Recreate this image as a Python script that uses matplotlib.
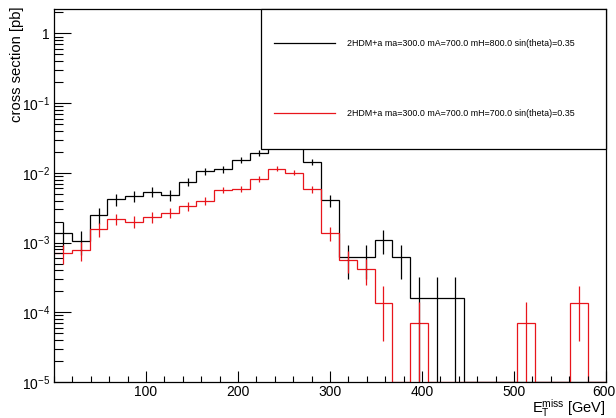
import numpy as np
import matplotlib
matplotlib.use("Agg")
import matplotlib.pyplot as plt
from matplotlib.patches import Rectangle
from matplotlib.transforms import ScaledTranslation
from matplotlib.ticker import FixedLocator, FixedFormatter, MultipleLocator, LogLocator, NullFormatter

plt.rcParams['font.family'] = 'Liberation Sans'
plt.rcParams['mathtext.fontset'] = 'custom'
plt.rcParams['mathtext.rm'] = 'Liberation Sans'
plt.rcParams['mathtext.it'] = 'Liberation Sans:italic'
plt.rcParams['mathtext.bf'] = 'Liberation Sans:bold'

# histogram binning: 31 bins over 0-600 GeV
n_bins = 31
x_lo, x_hi = 0, 600
y_lo, y_hi = 1e-5, 2.24

# mH=800 (black)
xs_800 = [1.37e-3, 1.07e-3, 2.49e-3, 4.18e-3, 4.67e-3, 5.37e-3, 4.82e-3, 7.48e-3,
          1.05e-2, 1.13e-2, 1.52e-2, 1.93e-2, 2.4e-2, 2.4e-2, 1.45e-2, 4.08e-3,
          6.15e-4, 6.15e-4, 1.09e-3, 6.15e-4, 1.59e-4, 1.59e-4, 1.59e-4, 0,
          0, 0, 0, 0, 0, 0, 0]
err_800 = [6.0e-4, 4.1e-4, 6.2e-4, 8.0e-4, 8.5e-4, 9.1e-4, 8.6e-4, 1.08e-3,
           1.28e-3, 1.32e-3, 1.54e-3, 1.73e-3, 1.93e-3, 1.93e-3, 1.5e-3, 7.95e-4,
           3.1e-4, 3.1e-4, 4.1e-4, 3.1e-4, 1.59e-4, 1.59e-4, 1.59e-4, 0,
           0, 0, 0, 0, 0, 0, 0]

# mH=700 (red)
xs_700 = [7.1e-4, 7.8e-4, 1.55e-3, 2.16e-3, 2.0e-3, 2.35e-3, 2.69e-3, 3.3e-3,
          3.99e-3, 5.69e-3, 5.93e-3, 8.17e-3, 1.15e-2, 1.01e-2, 5.82e-3, 1.36e-3,
          5.62e-4, 4.14e-4, 1.37e-4, 0, 6.95e-5, 0, 0, 0,
          0, 0, 6.95e-5, 0, 0, 1.37e-4, 0]
err_700 = [2.2e-4, 2.3e-4, 3.3e-4, 3.9e-4, 3.7e-4, 4.1e-4, 4.3e-4, 4.8e-4,
           5.3e-4, 6.3e-4, 6.4e-4, 7.6e-4, 9.0e-4, 8.4e-4, 6.4e-4, 3.1e-4,
           2.0e-4, 1.7e-4, 9.8e-5, 0, 6.95e-5, 0, 0, 0,
           0, 0, 6.95e-5, 0, 0, 9.8e-5, 0]

labels = ['2HDM+a ma=300.0 mA=700.0 mH=800.0 sin(theta)=0.35',
          '2HDM+a ma=300.0 mA=700.0 mH=700.0 sin(theta)=0.35']
colors = ['black', '#e8151b']

y_ticks = [1e-5, 1e-4, 1e-3, 1e-2, 1e-1, 1]
y_ticklabels = ['$10^{-5}$', '$10^{-4}$', '$10^{-3}$', '$10^{-2}$', '$10^{-1}$', '1']
x_ticks = [100, 200, 300, 400, 500, 600]

fig = plt.figure(figsize=(6.16, 4.18), dpi=100)
ax = fig.add_axes([54 / 616, 36 / 418, 552 / 616, 373 / 418])

edges = np.linspace(x_lo, x_hi, n_bins + 1)
centers = 0.5 * (edges[:-1] + edges[1:])

for vals, errs, col in [(xs_800, err_800, colors[0]), (xs_700, err_700, colors[1])]:
    vals = np.array(vals)
    errs = np.array(errs)
    shown = np.where(vals > 0, vals, y_lo)
    ax.stairs(shown, edges, color=col, lw=0.9, baseline=None)
    m = vals > 0
    lo = np.clip(vals - errs, y_lo * 0.5, None)
    ax.vlines(centers[m], lo[m], (vals + errs)[m], color=col, lw=0.9)

ax.set_yscale('log')
ax.set_xlim(x_lo, x_hi)
ax.set_ylim(y_lo, y_hi)

ax.yaxis.set_major_locator(FixedLocator(y_ticks))
ax.yaxis.set_major_formatter(FixedFormatter(y_ticklabels))
ax.yaxis.set_minor_locator(LogLocator(base=10, subs=np.arange(2, 10), numticks=20))
ax.yaxis.set_minor_formatter(NullFormatter())
ax.xaxis.set_major_locator(FixedLocator(x_ticks))
ax.xaxis.set_minor_locator(MultipleLocator(20))

ax.tick_params(axis='both', which='both', direction='in', top=False, right=False,
               labelsize=10, width=0.8, colors='black')
ax.tick_params(axis='y', which='major', length=12.2, pad=3)
ax.tick_params(axis='y', which='minor', length=6.5)
ax.tick_params(axis='x', which='major', length=7.7, pad=2.5)
ax.tick_params(axis='x', which='minor', length=4.1)
for s in ax.spines.values():
    s.set_linewidth(0.9)

# keep the last x label inside the canvas
last = ax.get_xticklabels()[-1]
last.set_transform(last.get_transform() + ScaledTranslation(-2 / 100, 0, fig.dpi_scale_trans))

# legend box (ROOT TLegend style)
ax.add_patch(Rectangle((0.375, 0.6247), 0.625, 0.3753, transform=ax.transAxes,
                       facecolor='white', edgecolor='black', lw=0.9, zorder=5, clip_on=False))
for yy, lab, col in zip([0.908, 0.7204], labels, colors):
    ax.plot([0.3986, 0.509], [yy, yy], transform=ax.transAxes, color=col, lw=0.9, zorder=6)
    ax.text(0.5303, yy, lab, transform=ax.transAxes, fontsize=6.4, va='center',
            ha='left', zorder=6)

fig.text(17.5 / 616, 1 - 7 / 418, 'cross section [pb]', rotation=90, ha='center',
         va='top', fontsize=10.7)
fig.text(606 / 616, 5 / 418, r'$\mathrm{E}_{\mathrm{T}}^{\mathrm{miss}}$ [GeV]',
         ha='right', va='baseline', fontsize=10.5)

fig.savefig('out.png', dpi=100)
